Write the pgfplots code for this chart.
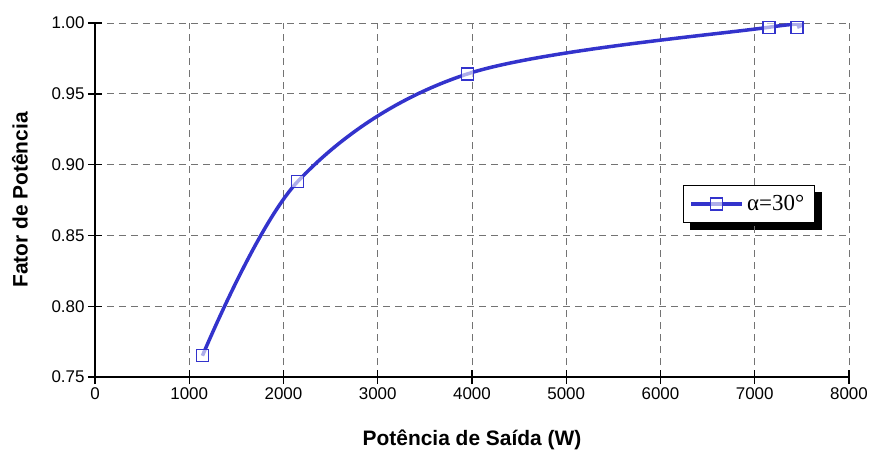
\documentclass[border=0pt]{standalone}
\usepackage{pgfplots}
\pgfplotsset{compat=1.18}
\usepackage{fontspec}
\setmainfont{Liberation Sans}
\newfontfamily\timesfont{Liberation Serif}
\usetikzlibrary{backgrounds}
\definecolor{lineblue}{RGB}{51,51,204}
\begin{document}
\begin{tikzpicture}
\begin{axis}[
  name=ax,
  scale only axis, width=754bp, height=354bp,
  xmin=0, xmax=8000, ymin=0.75, ymax=1.00,
  xtick={0,1000,...,8000}, ytick={0.75,0.80,0.85,0.90,0.95,1.00},
  yticklabel style={/pgf/number format/.cd, fixed, fixed zerofill, precision=2},
  xticklabel style={/pgf/number format/.cd, fixed, 1000 sep={}},
  scaled x ticks=false,
  /pgf/number format/assume math mode=true,
  axis x line*=bottom, axis y line*=left,
  axis line style={line width=1.4bp, -},
  tick align=center, major tick length=14bp,
  tick style={black, line width=1.4bp},
  grid=major,
  grid style={gray!90!black, line width=0.9bp, dash pattern=on 7bp off 5bp},
  tick label style={font=\fontsize{17}{20}\selectfont},
  xlabel={Potência de Saída (W)},
  ylabel={Fator de Potência},
  label style={font=\bfseries\fontsize{21}{24}\selectfont},
  xlabel style={at={(axis description cs:0.5,-0.178)}, anchor=center},
  ylabel style={at={(axis description cs:-0.0995,0.5)}, anchor=center},
  legend style={name=leg, at={(axis description cs:0.780,0.542)}, anchor=north west,
    draw=black, line width=1.2bp, fill=white,
    font=\timesfont\fontsize{23}{26}\selectfont,
    inner xsep=6bp, inner ysep=5bp,
    nodes={inner xsep=4bp, inner ysep=5bp}},
  legend image code/.code={\draw[mark repeat=2,mark phase=2,#1,line width=3.5bp] plot coordinates {(0bp,0bp) (25bp,0bp) (50bp,0bp)};},
]
\addplot[color=lineblue, line width=3.5bp, smooth, tension=0.55,
  mark=square*, mark size=6bp,
  mark options={line width=1.4bp, fill=white, fill opacity=0.6, draw=lineblue, solid}]
  coordinates {(1140,0.765) (2150,0.888) (3950,0.964) (7150,0.997) (7450,0.997)};
\addlegendentry{α=30°}
\end{axis}
\begin{scope}[on background layer]
\fill[black] ([shift={(7bp,-7bp)}]leg.south west) rectangle ([shift={(7bp,-7bp)}]leg.north east);
\end{scope}
\pgfresetboundingbox
\path[use as bounding box] ([xshift=-95bp,yshift=-79bp]ax.south west) rectangle ([xshift=20bp,yshift=23bp]ax.north east);
\end{tikzpicture}
\end{document}
